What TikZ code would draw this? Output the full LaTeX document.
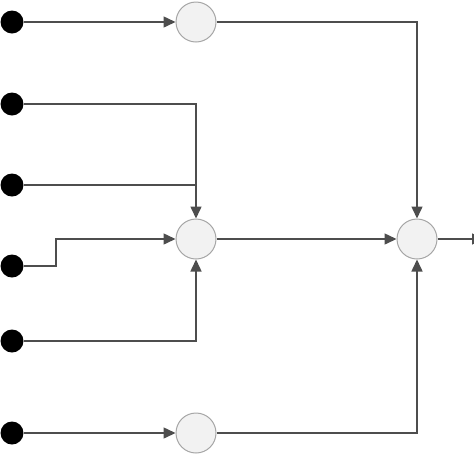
\documentclass[tikz,border=0pt]{standalone}
\usetikzlibrary{arrows.meta}
\definecolor{linegray}{HTML}{4D4D4D}
\definecolor{sumfill}{HTML}{F2F2F2}
\definecolor{sumdraw}{HTML}{A6A6A6}
\tikzset{
    input/.style={circle, fill=black, inner sep=0pt, minimum size=23pt},
    sum/.style={circle, draw=sumdraw, fill=sumfill, inner sep=0pt, minimum size=40pt, line width=1pt},
    wire/.style={linegray, line width=1.5pt},
    arr/.style={wire, -{Triangle[length=12pt, width=11pt]}}
}
\begin{document}
\begin{tikzpicture}[x=1pt, y=-1pt]
        \useasboundingbox (0,0) rectangle (474,459);

        \node[input] (in1) at (12,22) {};
        \node[input] (in2) at (12,104) {};
        \node[input] (in3) at (12,185) {};
        \node[input] (in4) at (12,266) {};
        \node[input] (in5) at (12,341) {};
        \node[input] (in6) at (12,433) {};

        \node[sum] (top) at (196,22) {};
        \node[sum] (mid) at (196,239) {};
        \node[sum] (bot) at (196,433) {};
        \node[sum] (out) at (417,239) {};

        \coordinate (join) at (196,185);
        \coordinate (step4) at (56,266);
        \coordinate (exit) at (484,239);

        \draw[arr] (in1) -- (top);
        \draw[arr] (in2) -| (mid);
        \draw[wire] (in3) -- (join);
        \draw[arr] (in4) -- (step4) |- (mid);
        \draw[arr] (in5) -| (mid);
        \draw[arr] (in6) -- (bot);

        \draw[arr] (top) -| (out);
        \draw[arr] (mid) -- (out);
        \draw[arr] (bot) -| (out);
        \draw[arr] (out) -- (exit);
    \end{tikzpicture}
\end{document}
